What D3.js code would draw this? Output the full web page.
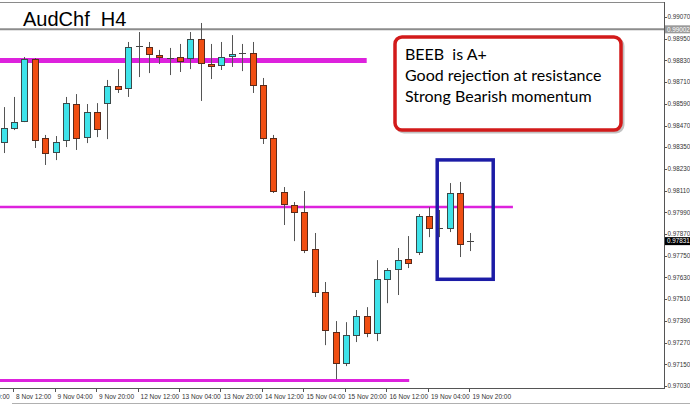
<!DOCTYPE html>
<html><head><meta charset="utf-8">
<script src="https://cdn.jsdelivr.net/npm/d3@7"></script>
<style>html,body{margin:0;padding:0;background:#fff;overflow:hidden}</style>
</head><body>
<svg id="c" width="690" height="405"></svg>
<script>
// ---- data ----
const times = ["8 Nov 08:00","8 Nov 12:00","8 Nov 16:00","8 Nov 20:00","9 Nov 00:00","9 Nov 04:00","9 Nov 08:00","9 Nov 12:00","9 Nov 16:00","9 Nov 20:00",
"12 Nov 00:00","12 Nov 04:00","12 Nov 08:00","12 Nov 12:00","12 Nov 16:00","12 Nov 20:00","13 Nov 00:00","13 Nov 04:00","13 Nov 08:00","13 Nov 12:00",
"13 Nov 16:00","13 Nov 20:00","14 Nov 00:00","14 Nov 04:00","14 Nov 08:00","14 Nov 12:00","14 Nov 16:00","14 Nov 20:00","15 Nov 00:00","15 Nov 04:00",
"15 Nov 08:00","15 Nov 12:00","15 Nov 16:00","15 Nov 20:00","16 Nov 00:00","16 Nov 04:00","16 Nov 08:00","16 Nov 12:00","16 Nov 16:00","16 Nov 20:00",
"19 Nov 00:00","19 Nov 04:00","19 Nov 08:00","19 Nov 12:00","19 Nov 16:00","19 Nov 20:00"];
const opens = [0.98379,0.98456,0.98495,0.98838,0.98401,0.98323,0.98390,0.98589,0.98406,0.98545,0.98594,0.98688,0.98677,0.98910,0.98904,0.98860,0.98849,0.98849,0.98843,0.98948,0.98810,0.98805,0.98854,0.98871,0.98871,0.98694,0.98401,0.98102,0.98030,0.97992,0.97787,0.97549,0.97328,0.97157,0.97312,0.97417,0.97323,0.97621,0.97676,0.97732,0.97770,0.97970,0.97903,0.97903,0.98097,0.97826];
const highs = [0.98572,0.98628,0.98849,0.98843,0.98418,0.98412,0.98628,0.98644,0.98589,0.98594,0.98722,0.98782,0.98932,0.98987,0.98932,0.98888,0.98899,0.98921,0.98987,0.99037,0.98921,0.98932,0.98970,0.98921,0.98932,0.98733,0.98418,0.98130,0.98047,0.98108,0.97876,0.97605,0.97389,0.97383,0.97450,0.97466,0.97726,0.97682,0.97793,0.97859,0.97981,0.98019,0.98003,0.98152,0.98158,0.97876];
const lows = [0.98318,0.98445,0.98489,0.98346,0.98252,0.98279,0.98351,0.98335,0.98373,0.98406,0.98395,0.98650,0.98628,0.98738,0.98760,0.98810,0.98749,0.98766,0.98782,0.98606,0.98727,0.98777,0.98794,0.98771,0.98650,0.98368,0.98097,0.97920,0.97831,0.97765,0.97522,0.97256,0.97068,0.97140,0.97273,0.97300,0.97278,0.97488,0.97533,0.97682,0.97754,0.97853,0.97853,0.97881,0.97743,0.97776];
const closes = [0.98456,0.98489,0.98838,0.98390,0.98318,0.98379,0.98594,0.98401,0.98545,0.98451,0.98688,0.98672,0.98904,0.98910,0.98865,0.98849,0.98843,0.98827,0.98948,0.98816,0.98799,0.98849,0.98865,0.98871,0.98694,0.98401,0.98108,0.98036,0.97992,0.97782,0.97549,0.97339,0.97157,0.97312,0.97417,0.97323,0.97621,0.97671,0.97726,0.97710,0.97970,0.97903,0.97903,0.98097,0.97815,0.97831];
const timeTickLabels = ["7 Nov 20:00","8 Nov 12:00","9 Nov 04:00","9 Nov 20:00","12 Nov 12:00","13 Nov 04:00","13 Nov 20:00","14 Nov 12:00","15 Nov 04:00","15 Nov 20:00","16 Nov 12:00","19 Nov 04:00","19 Nov 20:00"];
const priceTicks = [0.99070,0.98950,0.98830,0.98710,0.98590,0.98470,0.98350,0.98230,0.98110,0.97990,0.97870,0.97750,0.97630,0.97510,0.97390,0.97270,0.97150,0.97030];
const levelPrices = [0.98830,0.98020,0.97060];   // magenta support/resistance
const levelEndIdx = [35.0,49.1,39.1];
const askPrice = 0.99002;
const lastPrice = 0.97831;
const boxIdx = [41.8,47.2];
const boxPrices = [0.98280,0.97620];
const title = "AudChf  H4";
const noteLines = ["BEEB  is A+","Good rejection at resistance","Strong Bearish momentum"];

// ---- drawing ----
const svg = d3.select("#c");
const W = 690, H = 405, plotR = 664, plotB = 388, plotT = 2;
const x = d3.scaleLinear().domain([0, times.length - 1]).range([3.7, 470.4]);
const y = d3.scaleLinear().domain([0.97019, 0.99153]).range([plotB, plotT]);
const tickIdx = timeTickLabels.map(t => { const i = times.indexOf(t); return i >= 0 ? i : -3; });

const candles = times.map((t,i)=>({t,i,o:opens[i],h:highs[i],l:lows[i],c:closes[i]}));

svg.append("rect").attr("width",W).attr("height",H).attr("fill","#fff");

// frame
svg.append("line").attr("x1",0).attr("x2",plotR).attr("y1",plotT+0.5).attr("y2",plotT+0.5).attr("stroke","#8a8a8a");
svg.append("line").attr("x1",plotR+0.5).attr("x2",plotR+0.5).attr("y1",plotT).attr("y2",plotB).attr("stroke","#555");
svg.append("line").attr("x1",0).attr("x2",plotR+1).attr("y1",plotB+0.5).attr("y2",plotB+0.5).attr("stroke","#555");
svg.append("line").attr("x1",12).attr("x2",W).attr("y1",403.5).attr("y2",403.5).attr("stroke","#b0b0b0");

// ask line
svg.append("line").attr("x1",0).attr("x2",plotR).attr("y1",y(askPrice)).attr("y2",y(askPrice))
  .attr("stroke","#8c8c8c").attr("stroke-width",2);

// title
svg.append("text").attr("x",23).attr("y",26).text(title)
  .style("white-space","pre").attr("font-family","Liberation Sans, Arial, sans-serif").attr("font-size",20).attr("fill","#000");

// magenta levels
const lvW = [5,2.5,3];
svg.selectAll("line.lv").data(levelPrices).join("line").attr("class","lv")
  .attr("x1",0).attr("x2",(d,i)=>x(levelEndIdx[i]))
  .attr("y1",d=>y(d)).attr("y2",d=>y(d))
  .attr("stroke","#dd22dd").attr("stroke-width",(d,i)=>lvW[i]);

// candles
const g = svg.append("g");
const bw = 7;
g.selectAll("line.wick").data(candles).join("line").attr("class","wick")
  .attr("x1",d=>Math.round(x(d.i))+0.5).attr("x2",d=>Math.round(x(d.i))+0.5)
  .attr("y1",d=>y(d.h)).attr("y2",d=>y(d.l)).attr("stroke","#555").attr("stroke-width",1);
const bodies = candles.filter(d=>Math.abs(d.o-d.c)>0.00008);
const dojis = candles.filter(d=>Math.abs(d.o-d.c)<=0.00008);
g.selectAll("rect.body").data(bodies).join("rect").attr("class","body")
  .attr("x",d=>Math.round(x(d.i))-3+0.5)
  .attr("y",d=>Math.round(y(Math.max(d.o,d.c)))+0.5)
  .attr("width",bw-1)
  .attr("height",d=>Math.max(1,Math.round(Math.abs(y(d.o)-y(d.c)))))
  .attr("fill",d=>d.c>d.o?"#3fe3ea":"#f04e12")
  .attr("stroke",d=>d.c>d.o?"#3a4a4a":"#5a2a1a").attr("stroke-width",1);
g.selectAll("line.doji").data(dojis).join("line").attr("class","doji")
  .attr("x1",d=>Math.round(x(d.i))-3).attr("x2",d=>Math.round(x(d.i))+4)
  .attr("y1",d=>Math.round(y(d.c))+0.5).attr("y2",d=>Math.round(y(d.c))+0.5)
  .attr("stroke","#444").attr("stroke-width",1);

// blue box
svg.append("rect").attr("x",x(boxIdx[0])).attr("y",y(boxPrices[0]))
  .attr("width",x(boxIdx[1])-x(boxIdx[0])).attr("height",y(boxPrices[1])-y(boxPrices[0]))
  .attr("fill","none").attr("stroke","#1c1ca6").attr("stroke-width",3.5);

// annotation
svg.append("rect").attr("x",397).attr("y",39).attr("width",226).attr("height",93).attr("rx",7)
  .attr("fill","none").attr("stroke","#999").attr("stroke-opacity",0.6).attr("stroke-width",3);
svg.append("rect").attr("x",395).attr("y",37).attr("width",226).attr("height",93).attr("rx",7)
  .attr("fill","#fff").attr("stroke","#d21a1a").attr("stroke-width",3.5);
svg.selectAll("text.note").data(noteLines).join("text").attr("class","note")
  .attr("x",405).attr("y",(d,i)=>60+i*21).text(d=>d).style("white-space","pre")
  .attr("font-family","Lato, sans-serif").attr("font-size",16).attr("fill","#000");

// price axis
const fmt = d3.format(".5f");
const pa = svg.append("g").attr("font-family","Liberation Sans, Arial, sans-serif").attr("font-size",6.3).attr("fill","#333");
pa.selectAll("line").data(priceTicks).join("line")
  .attr("x1",plotR).attr("x2",plotR+3).attr("y1",d=>Math.round(y(d))+0.5).attr("y2",d=>Math.round(y(d))+0.5).attr("stroke","#555");
pa.selectAll("text").data(priceTicks).join("text")
  .attr("x",plotR+3.5).attr("y",d=>y(d)).attr("dy","0.35em").text(fmt);

// price markers
[[askPrice,"#9a9a9a"],[lastPrice,"#000"]].forEach(([p,col])=>{
  svg.append("rect").attr("x",plotR+1).attr("y",y(p)-4).attr("width",W-plotR).attr("height",8).attr("fill",col);
  svg.append("text").attr("x",plotR+3).attr("y",y(p)).attr("dy","0.35em").text(fmt(p))
    .attr("font-family","Liberation Sans, Arial, sans-serif").attr("font-size",6.3).attr("fill","#fff");
});

// time axis
const ta = svg.append("g").attr("font-family","Liberation Sans, Arial, sans-serif").attr("font-size",6.5).attr("fill","#333");
ta.selectAll("line").data(tickIdx).join("line")
  .attr("x1",d=>Math.round(x(d))-0.5).attr("x2",d=>Math.round(x(d))-0.5).attr("y1",plotB).attr("y2",plotB+4).attr("stroke","#555");
ta.selectAll("text").data(timeTickLabels).join("text")
  .attr("x",(d,i)=>x(tickIdx[i])+2).attr("y",399).text(d=>d);
</script>
</body></html>
